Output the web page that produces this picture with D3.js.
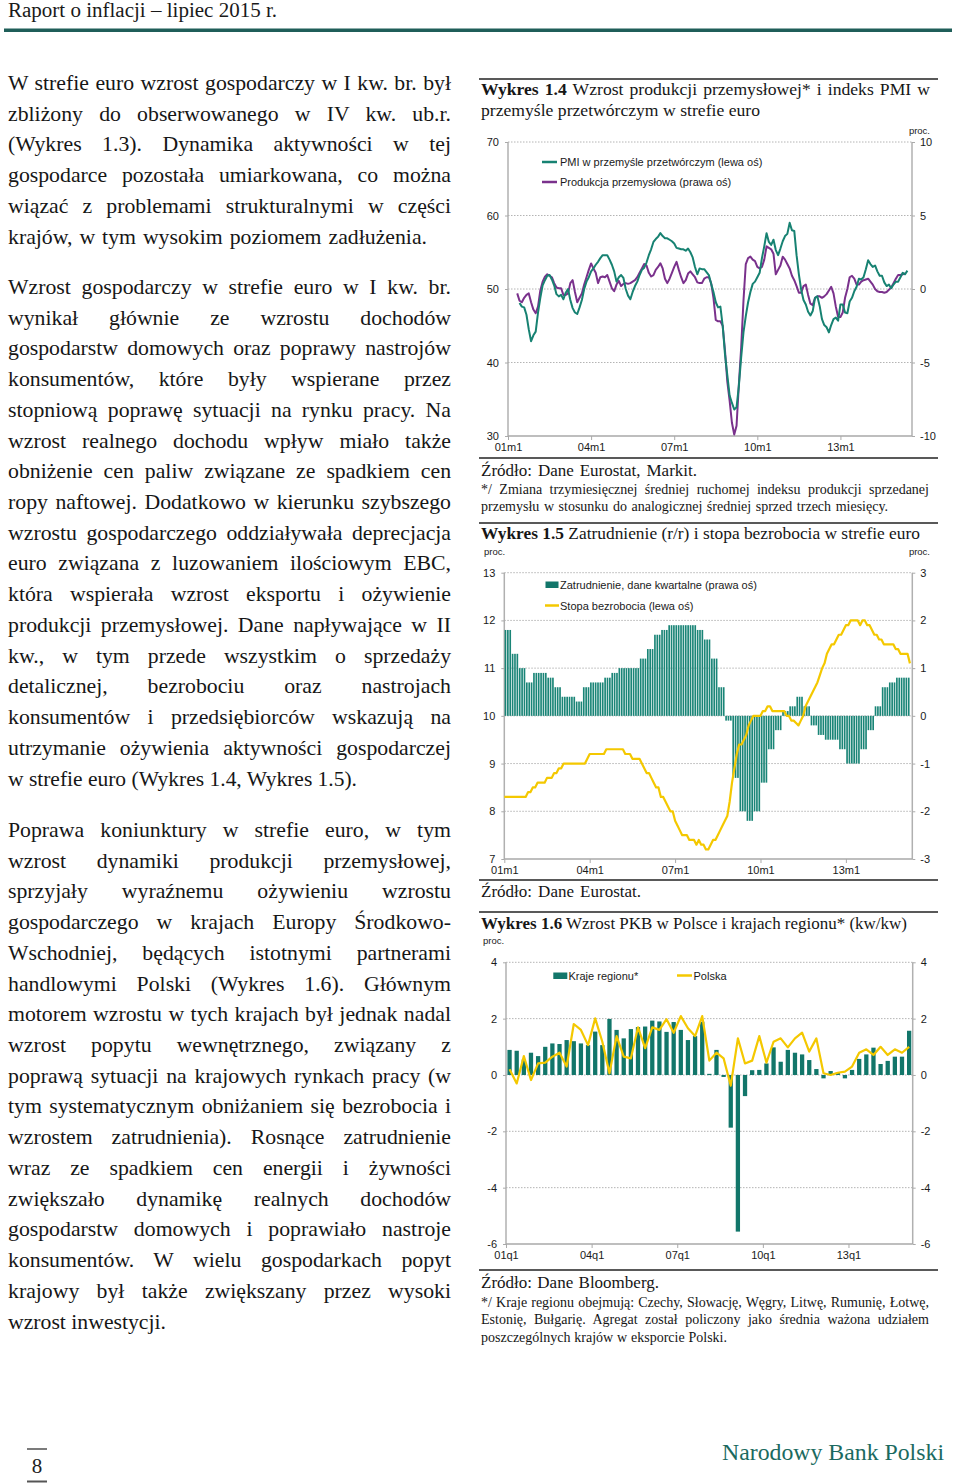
<!DOCTYPE html>
<html><head><meta charset="utf-8">
<script src="https://cdn.jsdelivr.net/npm/d3@7"></script>
<style>body{margin:0;background:#fff}svg{display:block}</style>
</head><body>
<svg id="page" width="960" height="1484"></svg>
<script>
// ---------------- DATA ----------------
// Wykres 1.4 (monthly, index 0 = 2001m1)
const pmiStart = 5;
const pmiValues = [48.1,47.6,47.5,46.5,44.5,42.9,43.7,44.2,46.8,48.8,
50.5,51.2,51.8,51.9,51.3,50.5,49.3,49.0,49.2,48.6,
49.5,50.0,48.5,47.4,46.8,46.6,47.5,48.5,50.0,51.0,
51.6,52.4,52.8,53.3,53.7,54.2,54.6,54.6,54.6,54.0,
53.3,52.4,51.0,51.6,51.9,51.5,50.0,49.1,48.6,49.6,
50.4,51.0,51.9,52.6,52.9,53.6,54.6,55.4,56.4,56.8,
57.1,57.6,57.2,56.9,56.9,56.7,56.5,56.2,55.6,55.5,
55.4,55.4,55.2,55.5,55.0,54.3,53.0,52.0,52.8,52.7,
52.7,52.3,51.9,50.7,49.6,48.2,47.5,47.6,45.0,41.1,
38.3,35.5,34.5,33.6,33.9,36.8,40.7,44.1,46.3,48.2,
49.6,50.7,51.0,51.6,52.2,54.2,55.8,57.6,56.4,56.0,
56.7,55.3,54.6,55.5,56.5,57.2,57.5,59.0,58.0,57.9,
54.6,52.0,49.9,48.5,47.9,46.9,46.4,47.0,48.8,49.0,
47.7,45.9,45.1,44.8,44.1,45.1,45.9,46.1,45.7,47.9,
47.9,46.8,46.7,48.3,48.8,49.7,50.3,51.4,51.3,51.6,
52.7,53.9,53.4,53.0,53.2,52.4,51.8,51.8,50.9,50.4,
50.6,50.1,50.6,51.0,51.0,51.6,52.2,52.0,52.5];
const prodStart = 4;
const prodValues = [-0.3,-0.8,-0.9,-0.6,-0.4,-0.3,-0.9,-1.4,-1.65,-1.2,
-0.1,0.5,0.84,1.0,0.9,0.8,0.4,0.1,0.05,0.05,
-0.4,-0.4,-0.3,0.4,0.6,-0.2,-0.9,-0.6,-0.3,0.3,
0.8,1.3,1.74,1.4,1.1,0.4,0.8,0.85,0.8,0.95,
0.5,0.05,-0.15,0.3,0.55,0.2,0.35,0.4,0.35,0.4,
0.5,0.6,0.8,1.1,1.4,1.7,1.6,1.1,0.85,0.95,
1.3,1.5,1.75,1.4,0.7,0.4,0.7,1.1,1.5,1.85,
1.3,0.8,0.4,0.6,1.05,1.2,1.0,0.8,0.45,0.4,
0.4,0.7,0.8,0.8,0.4,-0.6,-2.1,-2.2,-2.2,-2.5,
-4.2,-6.3,-7.6,-9.1,-9.9,-9.3,-6.5,-4.0,-0.8,1.7,
2.1,2.2,2.0,1.9,1.5,1.4,1.5,2.0,2.9,2.8,
2.7,2.4,1.0,1.3,1.6,2.2,2.0,1.7,1.4,0.9,
0.6,0.2,-0.25,-0.25,0.2,0.3,-0.4,-1.0,-1.1,-0.6,
-0.5,-0.5,-0.6,-0.5,-0.35,-0.1,0.15,-0.3,-1.2,-1.9,
-1.9,-1.6,-0.6,0.0,0.8,0.9,0.7,0.3,0.3,0.5,
0.6,0.65,0.7,0.5,0.3,0.0,-0.15,-0.2,-0.2,-0.25,
-0.2,-0.05,0.1,0.4,0.7,0.95,0.95,1.0,1.05];
const monthTickLabels = ["01m1","04m1","07m1","10m1","13m1"];

// Wykres 1.5
const employmentQuarterly = [1.8,1.3,1.0,0.7, 0.9,0.9,0.8,0.6, 0.4,0.4,0.3,0.6, 0.7,0.7,0.8,0.9,
1.0,1.0,1.0,1.2, 1.4,1.7,1.8,1.9, 1.9,1.9,1.9,1.8, 1.6,1.2,0.6,-0.1,
-1.3,-2.0,-2.2,-2.0, -1.4,-0.7,-0.3,0.1, 0.2,0.4,0.2,-0.2, -0.4,-0.5,-0.5,-0.7,
-1.0,-1.0,-0.7,-0.3, 0.2,0.6,0.7,0.8, 0.8];
const unemploymentMonthly = [8.3,8.3,8.3,8.3,8.3,8.3,8.3,8.3,8.3,8.3,
8.4,8.4,8.5,8.5,8.6,8.6,8.6,8.6,8.7,8.7,
8.7,8.8,8.8,8.9,8.9,9.0,9.0,9.0,9.0,9.0,
9.0,9.0,9.0,9.0,9.0,9.1,9.2,9.2,9.2,9.2,
9.2,9.2,9.2,9.3,9.3,9.3,9.3,9.3,9.3,9.3,
9.3,9.2,9.2,9.2,9.1,9.1,9.1,9.1,9.0,8.9,
8.8,8.8,8.7,8.6,8.5,8.5,8.3,8.3,8.2,8.1,
8.0,8.0,7.8,7.7,7.6,7.5,7.5,7.5,7.4,7.4,
7.4,7.3,7.4,7.3,7.3,7.2,7.2,7.3,7.4,7.4,
7.5,7.6,7.7,7.8,7.9,8.2,8.6,8.9,9.2,9.4,
9.4,9.5,9.6,9.8,9.9,10.0,10.0,10.0,10.0,10.1,
10.1,10.2,10.2,10.1,10.1,10.1,10.1,10.1,10.1,10.0,
10.0,9.9,9.9,9.85,9.8,9.9,10.0,10.2,10.3,10.4,
10.5,10.6,10.7,10.85,11.0,11.1,11.3,11.4,11.5,11.5,
11.6,11.7,11.7,11.8,11.9,11.9,12.0,12.0,12.0,12.0,
11.9,12.0,12.0,11.9,11.9,11.8,11.7,11.7,11.6,11.6,
11.5,11.5,11.5,11.5,11.5,11.4,11.4,11.3,11.3,11.3,
11.3,11.1];

// Wykres 1.6 (quarterly, index 0 = 2001q1)
const gdpRegion = [0.89,0.86,0.55,0.79, 0.67,1.0,1.12,1.1, 1.24,1.2,1.12,1.06, 1.54,1.06,1.99,1.6,
1.3,1.63,1.7,1.72, 1.93,1.9,1.53,1.88, 1.6,1.24,1.38,1.89, 0.04,0.89,-0.07,-1.87,
-5.56,-0.75,0.17,0.18, 0.41,0.98,0.47,0.89, 0.79,0.73,0.53,0.21, -0.12,0.14,0.08,-0.12,
0.18,0.57,0.73,0.97, 0.39,0.5,0.65,0.65, 1.57];
const gdpPoland = [0.2,-0.3,0.67,-0.18, 0.41,0.44,0.65,0.79, 0.3,1.81,1.6,1.06, 2.01,1.18,0.06,1.38,
0.65,0.59,1.69,0.95, 1.69,1.6,1.98,1.5, 2.09,1.66,1.38,2.09, 0.51,0.79,0.59,-0.38,
1.3,0.41,0.51,1.38, 0.44,1.18,1.3,0.98, 1.3,1.5,0.83,1.3, 0.06,0.0,0.08,0.12,
0.3,0.79,0.91,0.71, 1.0,0.71,0.91,0.79, 1.0];
const quarterTickLabels = ["01q1","04q1","07q1","10q1","13q1"];

// ---------------- TEXT ----------------
const para1 = ["W strefie euro wzrost gospodarczy w I kw. br. był",
"zbliżony do obserwowanego w IV kw. ub.r.",
"(Wykres 1.3). Dynamika aktywności w tej",
"gospodarce pozostała umiarkowana, co można",
"wiązać z problemami strukturalnymi w części",
"krajów, w tym wysokim poziomem zadłużenia."];
const para2 = ["Wzrost gospodarczy w strefie euro w I kw. br.",
"wynikał głównie ze wzrostu dochodów",
"gospodarstw domowych oraz poprawy nastrojów",
"konsumentów, które były wspierane przez",
"stopniową poprawę sytuacji na rynku pracy. Na",
"wzrost realnego dochodu wpływ miało także",
"obniżenie cen paliw związane ze spadkiem cen",
"ropy naftowej. Dodatkowo w kierunku szybszego",
"wzrostu gospodarczego oddziaływała deprecjacja",
"euro związana z luzowaniem ilościowym EBC,",
"która wspierała wzrost eksportu i ożywienie",
"produkcji przemysłowej. Dane napływające w II",
"kw., w tym przede wszystkim o sprzedaży",
"detalicznej, bezrobociu oraz nastrojach",
"konsumentów i przedsiębiorców wskazują na",
"utrzymanie ożywienia aktywności gospodarczej",
"w strefie euro (Wykres 1.4, Wykres 1.5)."];
const para3 = ["Poprawa koniunktury w strefie euro, w tym",
"wzrost dynamiki produkcji przemysłowej,",
"sprzyjały wyraźnemu ożywieniu wzrostu",
"gospodarczego w krajach Europy Środkowo-",
"Wschodniej, będących istotnymi partnerami",
"handlowymi Polski (Wykres 1.6). Głównym",
"motorem wzrostu w tych krajach był jednak nadal",
"wzrost popytu wewnętrznego, związany z",
"poprawą sytuacji na krajowych rynkach pracy (w",
"tym systematycznym obniżaniem się bezrobocia i",
"wzrostem zatrudnienia). Rosnące zatrudnienie",
"wraz ze spadkiem cen energii i żywności",
"zwiększało dynamikę realnych dochodów",
"gospodarstw domowych i poprawiało nastroje",
"konsumentów. W wielu gospodarkach popyt",
"krajowy był także zwiększany przez wysoki",
"wzrost inwestycji."];

// ---------------- HELPERS ----------------
const svg = d3.select("#page");
const SERIF = "'Liberation Serif','Times New Roman',serif";
const SANS = "'Liberation Sans',Arial,Helvetica,sans-serif";
const TEAL_LINE = "#178272", PURPLE = "#7a318c", YELLOW = "#f4c800";
const TEAL_BAR = "#1a8577", TEAL_BAR2 = "#12766a";
const fmt = d => d < 0 ? "-" + Math.abs(d) : String(d);

function measure(str, size, family, weight) {
  const t = svg.append("text").style("font-family", family).style("font-size", size + "px")
    .style("font-weight", weight || "normal").text(str);
  const w = t.node().getComputedTextLength(); t.remove(); return w;
}
function line(parent, parts, x0, x1, y, size, family, color) {
  if (typeof parts === "string") parts = [{t: parts}];
  const t = parent.append("text").attr("x", x0).attr("y", y)
    .style("font-family", family).style("font-size", size + "px").attr("fill", color || "#161616");
  parts.forEach(p => t.append("tspan").text(p.t).style("font-weight", p.b ? "bold" : "normal"));
  if (x1 != null) {
    const w = t.node().getComputedTextLength();
    const n = (parts.map(p => p.t).join("").match(/ /g) || []).length;
    const extra = x1 - x0 - w;
    if (extra >= 0 && n > 0) t.style("word-spacing", (extra / n).toFixed(2) + "px");
    else if (extra < 0) t.attr("textLength", x1 - x0).attr("lengthAdjust", "spacingAndGlyphs");
  }
  return t;
}

// ---------------- HEADER / FOOTER ----------------
svg.append("text").attr("x", 8).attr("y", 17).style("font-family", SERIF).style("font-size", "20px")
  .attr("fill", "#1a1a1a").attr("textLength", 269).attr("lengthAdjust", "spacingAndGlyphs")
  .text("Raport o inflacji – lipiec 2015 r.");
svg.append("rect").attr("x", 4).attr("y", 28.5).attr("width", 948).attr("height", 3.5).attr("fill", "#1f5e59");

svg.append("line").attr("x1", 27).attr("x2", 47).attr("y1", 1449).attr("y2", 1449).attr("stroke", "#222").attr("stroke-width", 1.2);
svg.append("text").attr("x", 37).attr("y", 1473).attr("text-anchor", "middle").style("font-family", SERIF)
  .style("font-size", "21px").attr("fill", "#222").text("8");
svg.append("line").attr("x1", 27).attr("x2", 47).attr("y1", 1481.5).attr("y2", 1481.5).attr("stroke", "#555").attr("stroke-width", 2);
svg.append("text").attr("x", 722).attr("y", 1460).style("font-family", SERIF).style("font-size", "23px")
  .attr("fill", "#1b6a60").attr("textLength", 222).attr("lengthAdjust", "spacingAndGlyphs").text("Narodowy Bank Polski");

// ---------------- BODY TEXT ----------------
const lastFits = [[para1[para1.length - 1], 419], [para2[para2.length - 1], 349], [para3[para3.length - 1], 158]];
let bodySize = 20 * d3.mean(lastFits.map(([s, w]) => w / measure(s, 20, SERIF)));
bodySize = Math.max(18, Math.min(22, bodySize));
const body = svg.append("g");
function para(lines, y0, lastEnd) {
  lines.forEach((s, i) => {
    const last = i === lines.length - 1;
    line(body, s, 8, last ? lastEnd : 451, y0 + i * 30.72, bodySize, SERIF, "#161616");
  });
}
para(para1, 90, 427);
para(para2, 294, 357);
para(para3, 837, 166);

// ---------------- RIGHT COLUMN TEXT ----------------
const right = svg.append("g");
const titleSize = Math.max(14, Math.min(18, 16 * 279 / measure("przemyśle przetwórczym w strefie euro", 16, SERIF)));
const srcSize = Math.max(13, Math.min(17, 15 * 216 / measure("Źródło: Dane Eurostat, Markit.", 15, SERIF)));
const noteSize = Math.max(11, Math.min(14, 12.5 * 246 / measure("poszczególnych krajów w eksporcie Polski.", 12.5, SERIF)));
function rule(y) { right.append("line").attr("x1", 479).attr("x2", 938).attr("y1", y).attr("y2", y).attr("stroke", "#222").attr("stroke-width", 1.3); }

rule(79);
line(right, [{t: "Wykres 1.4", b: true}, {t: " Wzrost produkcji przemysłowej* i indeks PMI w"}], 481, 930, 95, titleSize, SERIF);
line(right, "przemyśle przetwórczym w strefie euro", 481, 760, 116, titleSize, SERIF);
rule(458);
line(right, "Źródło: Dane Eurostat, Markit.", 481, 697, 476, srcSize, SERIF);
line(right, "*/ Zmiana trzymiesięcznej średniej ruchomej indeksu produkcji sprzedanej", 481, 929, 494, noteSize, SERIF);
line(right, "przemysłu w stosunku do analogicznej średniej sprzed trzech miesięcy.", 481, 888, 511, noteSize, SERIF);

rule(523);
line(right, [{t: "Wykres 1.5", b: true}, {t: " Zatrudnienie (r/r) i stopa bezrobocia w strefie euro"}], 481, 920, 539, titleSize, SERIF);
rule(880);
line(right, "Źródło: Dane Eurostat.", 481, 641, 897, srcSize, SERIF);

rule(912);
line(right, [{t: "Wykres 1.6", b: true}, {t: " Wzrost PKB w Polsce i krajach regionu* (kw/kw)"}], 481, 907, 929, titleSize, SERIF);
rule(1270);
line(right, "Źródło: Dane Bloomberg.", 481, 659, 1288, srcSize, SERIF);
line(right, "*/ Kraje regionu obejmują: Czechy, Słowację, Węgry, Litwę, Rumunię, Łotwę,", 481, 929, 1307, noteSize, SERIF);
line(right, "Estonię, Bułgarię. Agregat został policzony jako średnia ważona udziałem", 481, 929, 1324, noteSize, SERIF);
line(right, "poszczególnych krajów w eksporcie Polski.", 481, 727, 1342, noteSize, SERIF);

// ---------------- CHART HELPERS ----------------
function frame(g, x0, x1, yL, yR, leftTicks, rightTicks) {
  const yTop = yL.range()[1], yBot = yL.range()[0];
  g.selectAll(null).data(leftTicks.filter(v => yL(v) < yBot - 1)).join("line")
    .attr("x1", x0).attr("x2", x1).attr("y1", d => yL(d)).attr("y2", d => yL(d))
    .attr("stroke", "#b4b4b4").attr("stroke-width", 1).attr("stroke-dasharray", "1.5,1.5");
  g.append("line").attr("x1", x0).attr("x2", x0).attr("y1", yTop).attr("y2", yBot).attr("stroke", "#b0b0b0").attr("stroke-width", 1.5);
  g.append("line").attr("x1", x1).attr("x2", x1).attr("y1", yTop).attr("y2", yBot).attr("stroke", "#b0b0b0").attr("stroke-width", 1.5);
  const la = g.append("g").attr("transform", `translate(${x0},0)`)
    .call(d3.axisLeft(yL).tickValues(leftTicks).tickFormat(fmt).tickSize(3).tickPadding(6));
  const ra = g.append("g").attr("transform", `translate(${x1},0)`)
    .call(d3.axisRight(yR).tickValues(rightTicks).tickFormat(fmt).tickSize(3).tickPadding(5));
  [la, ra].forEach(a => {
    a.select(".domain").remove();
    a.selectAll("line").attr("stroke", "#aaa");
    a.selectAll("text").style("font-family", SANS).style("font-size", "11px").attr("fill", "#1a1a1a");
  });
}
function bottomAxis(g, scale, yBot, values, labels, x0, x1) {
  const a = g.append("g").attr("transform", `translate(0,${yBot})`)
    .call(d3.axisBottom(scale).tickValues(values).tickFormat((d, i) => labels[i]).tickSize(4).tickPadding(3));
  a.select(".domain").remove();
  a.selectAll("line").attr("stroke", "#aaa");
  a.selectAll("text").style("font-family", SANS).style("font-size", "11px").attr("fill", "#1a1a1a");
  g.append("line").attr("x1", x0).attr("x2", x1).attr("y1", yBot).attr("y2", yBot).attr("stroke", "#a8a8a8").attr("stroke-width", 1.5);
}
function procLabel(g, x, y, anchor) {
  g.append("text").attr("x", x).attr("y", y).attr("text-anchor", anchor).style("font-family", SANS)
    .style("font-size", "9.5px").attr("fill", "#1a1a1a").text("proc.");
}
function legendText(g, x, y, s) {
  g.append("text").attr("x", x).attr("y", y).style("font-family", SANS).style("font-size", "11px").attr("fill", "#1a1a1a").text(s);
}

// ---------------- WYKRES 1.4 ----------------
{
  const g = svg.append("g");
  const x0 = 508, x1 = 912;
  const x = d3.scaleLinear().domain([0, 175]).range([x0, x1]);
  const yL = d3.scaleLinear().domain([30, 70]).range([436, 142]);
  const yR = d3.scaleLinear().domain([-10, 10]).range([436, 142]);
  frame(g, x0, x1, yL, yR, [30, 40, 50, 60, 70], [-10, -5, 0, 5, 10]);
  bottomAxis(g, x, 436, [0, 36, 72, 108, 144], monthTickLabels, x0, x1);
  procLabel(g, 930, 134, "end");
  const pmi = pmiValues.map((v, i) => ({m: pmiStart + i, v}));
  const prod = prodValues.map((v, i) => ({m: prodStart + i, v}));
  g.append("path").datum(prod).attr("fill", "none").attr("stroke", PURPLE).attr("stroke-width", 2)
    .attr("stroke-linejoin", "round").attr("d", d3.line().x(d => x(d.m)).y(d => yR(d.v)));
  g.append("path").datum(pmi).attr("fill", "none").attr("stroke", TEAL_LINE).attr("stroke-width", 2)
    .attr("stroke-linejoin", "round").attr("d", d3.line().x(d => x(d.m)).y(d => yL(d.v)));
  g.append("line").attr("x1", 542).attr("x2", 557).attr("y1", 162).attr("y2", 162).attr("stroke", TEAL_LINE).attr("stroke-width", 2.5);
  legendText(g, 560, 166, "PMI w przemyśle przetwórczym (lewa oś)");
  g.append("line").attr("x1", 542).attr("x2", 557).attr("y1", 182).attr("y2", 182).attr("stroke", PURPLE).attr("stroke-width", 2.5);
  legendText(g, 560, 186, "Produkcja przemysłowa (prawa oś)");
}

// ---------------- WYKRES 1.5 ----------------
{
  const g = svg.append("g");
  const x0 = 504.3, x1 = 912.3;
  const nMonths = 172;
  const x = d3.scaleLinear().domain([0, nMonths]).range([x0, x1]);
  const xb = d3.scaleBand().domain(d3.range(nMonths)).range([x0, x1]).paddingInner(0.3).paddingOuter(0.15);
  const yL = d3.scaleLinear().domain([7, 13]).range([859, 572.7]);
  const yR = d3.scaleLinear().domain([-3, 3]).range([859, 572.7]);
  frame(g, x0, x1, yL, yR, [7, 8, 9, 10, 11, 12, 13], [-3, -2, -1, 0, 1, 2, 3]);
  procLabel(g, 484, 555, "start");
  procLabel(g, 930, 555, "end");
  const bars = [];
  employmentQuarterly.forEach((v, q) => { for (let k = 0; k < 3; k++) bars.push({m: q * 3 + k, v}); });
  g.append("g").selectAll("rect").data(bars).join("rect")
    .attr("x", d => xb(d.m)).attr("width", xb.bandwidth())
    .attr("y", d => Math.min(yR(d.v), yR(0))).attr("height", d => Math.abs(yR(d.v) - yR(0)))
    .attr("fill", TEAL_BAR);
  const un = unemploymentMonthly.map((v, m) => ({m, v}));
  g.append("path").datum(un).attr("fill", "none").attr("stroke", YELLOW).attr("stroke-width", 2.2)
    .attr("stroke-linejoin", "round").attr("d", d3.line().x(d => x(d.m)).y(d => yL(d.v)));
  bottomAxis(g, x, 859, [0, 36, 72, 108, 144], monthTickLabels, x0, x1);
  g.append("rect").attr("x", 545.5).attr("y", 581.5).attr("width", 13).attr("height", 6.5).attr("fill", TEAL_BAR2);
  legendText(g, 560, 589, "Zatrudnienie, dane kwartalne (prawa oś)");
  g.append("line").attr("x1", 545).attr("x2", 559).attr("y1", 605.5).attr("y2", 605.5).attr("stroke", YELLOW).attr("stroke-width", 2.5);
  legendText(g, 560, 609.5, "Stopa bezrobocia (lewa oś)");
}

// ---------------- WYKRES 1.6 ----------------
{
  const g = svg.append("g");
  const x0 = 506, x1 = 912.7;
  const nQ = gdpRegion.length;
  const x = d3.scaleLinear().domain([0, nQ]).range([x0, x1]);
  const xb = d3.scaleBand().domain(d3.range(nQ)).range([x0, x1]).paddingInner(0.4).paddingOuter(0.2);
  const y = d3.scaleLinear().domain([-6, 4]).range([1244, 962.3]);
  frame(g, x0, x1, y, y, [-6, -4, -2, 0, 2, 4], [-6, -4, -2, 0, 2, 4]);
  procLabel(g, 483, 944, "start");
  g.append("g").selectAll("rect").data(gdpRegion).join("rect")
    .attr("x", (d, i) => xb(i)).attr("width", xb.bandwidth())
    .attr("y", d => Math.min(y(d), y(0))).attr("height", d => Math.max(1.2, Math.abs(y(d) - y(0))))
    .attr("fill", TEAL_BAR2);
  g.append("path").datum(gdpPoland).attr("fill", "none").attr("stroke", YELLOW).attr("stroke-width", 2.2)
    .attr("stroke-linejoin", "round").attr("d", d3.line().x((d, i) => x(i + 0.5)).y(d => y(d)));
  bottomAxis(g, x, 1244, [0, 12, 24, 36, 48], quarterTickLabels, x0, x1);
  g.append("rect").attr("x", 553.3).attr("y", 972.5).attr("width", 14).attr("height", 6.5).attr("fill", TEAL_BAR2);
  legendText(g, 568.5, 979.5, "Kraje regionu*");
  g.append("line").attr("x1", 677).attr("x2", 692).attr("y1", 975.5).attr("y2", 975.5).attr("stroke", YELLOW).attr("stroke-width", 2.5);
  legendText(g, 693.5, 979.5, "Polska");
}
</script>
</body></html>
